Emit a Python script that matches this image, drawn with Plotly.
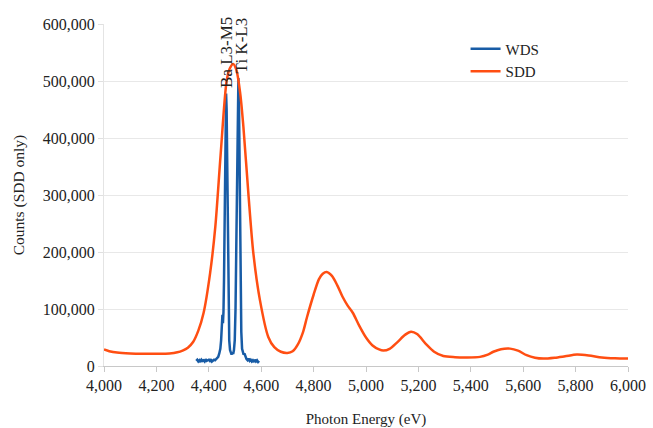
import plotly.graph_objects as go

# SDD spectrum (eV, counts)
sdd_energy = [4000, 4020, 4050, 4100, 4150, 4200, 4250, 4280, 4300, 4320, 4340, 4360, 4380,
              4405, 4425, 4445, 4468, 4480, 4493, 4505, 4520, 4532, 4551, 4570, 4595, 4627,
              4650, 4675, 4700, 4720, 4740, 4760, 4775, 4800, 4820, 4835, 4850, 4870, 4890,
              4910, 4930, 4950, 4975, 5000, 5025, 5050, 5066, 5090, 5120, 5150, 5172, 5195,
              5230, 5260, 5295, 5340, 5385, 5435, 5465, 5486, 5515, 5550, 5580, 5613, 5645,
              5677, 5720, 5760, 5805, 5850, 5900, 5950, 6000]
sdd_counts = [29000, 26000, 23500, 22000, 21500, 21500, 22000, 24000, 27000, 32000, 42000, 62000, 93000,
              163000, 245000, 370000, 500000, 522000, 530000, 520000, 478000, 420000, 303000, 198000, 116000, 51000,
              33000, 25000, 23000, 26000, 38000, 60000, 86000, 125000, 152000, 162000, 165000, 158000, 142000,
              122000, 106000, 93000, 70000, 50000, 36000, 29000, 27000, 30000, 42000, 55000, 60000, 56000,
              38000, 25000, 17500, 15500, 15000, 16000, 20000, 25000, 29500, 30500, 27000, 19000, 14500,
              13000, 14500, 17000, 20000, 18500, 15000, 13500, 13000]

# WDS spectrum (eV, counts)
wds_energy = [4352, 4356, 4360, 4364, 4368, 4372, 4376, 4380, 4384, 4388, 4392, 4396, 4400, 4404,
              4408, 4412, 4416, 4420, 4424, 4428, 4432, 4436, 4440, 4444, 4447, 4450, 4452, 4454,
              4456, 4458, 4460, 4462, 4464, 4466, 4468, 4470, 4472, 4474, 4476, 4478, 4481, 4484,
              4487, 4490, 4493, 4496, 4499, 4502, 4505, 4508, 4511, 4513, 4515, 4517, 4519, 4521,
              4524, 4527, 4530, 4533, 4536, 4540, 4544, 4548, 4552, 4556, 4560, 4564, 4568, 4572,
              4576, 4580, 4584, 4588, 4592]
wds_counts = [9000, 11000, 8000, 10000, 7000, 11000, 9000, 10000, 8000, 12000, 9000, 10000, 11000, 9000,
              12000, 8000, 10000, 11000, 10000, 12000, 13000, 16000, 22000, 30000, 45000, 85000, 90000, 75000,
              95000, 150000, 240000, 350000, 445000, 478000, 450000, 360000, 240000, 140000, 80000, 45000, 28000, 22000,
              20000, 24000, 21000, 28000, 45000, 100000, 230000, 380000, 480000, 505000, 470000, 380000, 250000, 140000,
              60000, 30000, 24000, 20000, 22000, 15000, 12000, 10000, 13000, 9000, 11000, 8000, 10000, 7000,
              11000, 8000, 10000, 7000, 9000]

peak_labels = ["Ba L3-M5", "Ti K-L3"]
peak_label_energy = [4467, 4524]

x_ticks = list(range(4000, 6001, 200))
y_ticks = list(range(0, 600001, 100000))

FONT = "Liberation Serif"
fig = go.Figure()
fig.add_trace(go.Scatter(x=wds_energy, y=wds_counts, mode="lines", name="WDS",
                         line=dict(color="#185ca6", width=2.5)))
fig.add_trace(go.Scatter(x=sdd_energy, y=sdd_counts, mode="lines", name="SDD",
                         line=dict(color="#ff4e12", width=2.5, shape="spline", smoothing=0.8)))

for lab, e in zip(peak_labels, peak_label_energy):
    fig.add_annotation(x=e, y=1.026, xref="x", yref="paper", text=lab, textangle=-90,
                       showarrow=False, yanchor="top", xanchor="center",
                       font=dict(family=FONT, size=17, color="#222"))

fig.update_layout(
    width=653, height=428,
    margin=dict(l=104, r=25, t=24, b=62),
    paper_bgcolor="white", plot_bgcolor="white",
    font=dict(family=FONT, size=16, color="#222"),
    showlegend=True,
    legend=dict(x=0.69, y=0.975, xanchor="left", yanchor="top",
                bgcolor="rgba(0,0,0,0)", font=dict(family=FONT, size=15, color="#222"),
                itemwidth=30, tracegroupgap=0),
)
fig.update_xaxes(range=[4000, 6000], tickvals=x_ticks, tickformat=",d", automargin=False,
                 showgrid=False, zeroline=False, showline=True, linecolor="#c8c8c8",
                 ticks="outside", ticklen=5, tickcolor="#c8c8c8",
                 title=dict(text="Photon Energy (eV)", font=dict(size=15), standoff=20),
                 tickfont=dict(size=16))
fig.update_yaxes(range=[0, 600000], tickvals=y_ticks, tickformat=",d", automargin=False,
                 showgrid=True, gridcolor="#e8e8e8", zeroline=False,
                 showline=True, linecolor="#e4e4e4",
                 ticks="outside", ticklen=5, tickcolor="#e0e0e0",
                 title=dict(text="Counts (SDD only)", font=dict(size=15.5), standoff=14),
                 tickfont=dict(size=16))

fig.write_html("out.html")
